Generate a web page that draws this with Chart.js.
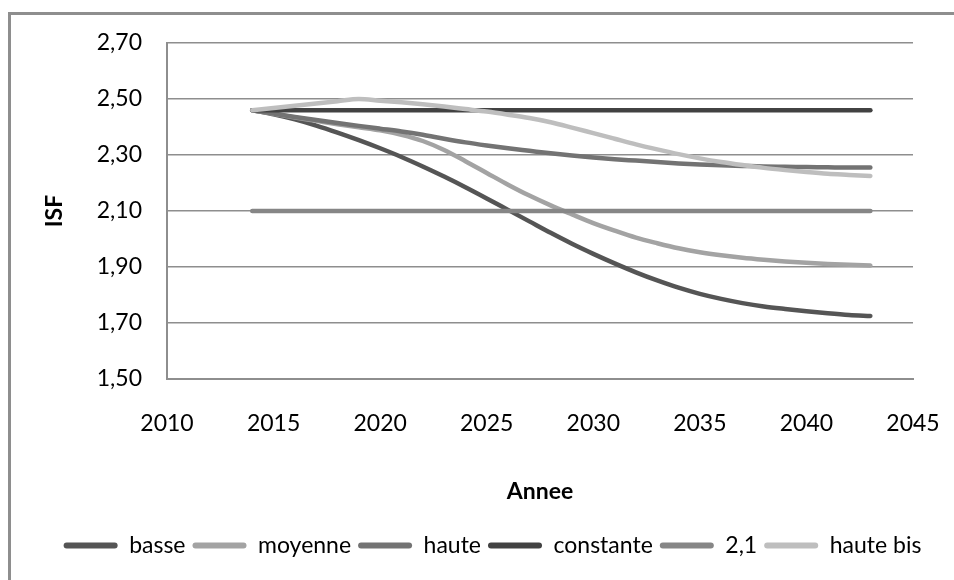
<!DOCTYPE html>
<html>
<head>
<meta charset="utf-8">
<script src="https://cdn.jsdelivr.net/npm/chart.js@4/dist/chart.umd.min.js"></script>
<style>
  html, body { margin: 0; padding: 0; background: #fff; overflow: hidden; }
  #wrap { position: relative; width: 954px; height: 580px; overflow: hidden; }
  #frame { position: absolute; left: 8px; top: 12px; width: 946px; height: 568px;
           border-left: 3px solid #8e8e8e; border-top: 3px solid #8e8e8e; box-sizing: border-box; }
  #c { position: absolute; left: 0; top: 0; }
</style>
</head>
<body>
<div id="wrap">
  <div id="frame"></div>
  <canvas id="c" width="954" height="580"></canvas>
</div>
<script>
// données (ISF par année)
const annees = [2014, 2015, 2016, 2017, 2018, 2019, 2020, 2021, 2022, 2023,
                2024, 2025, 2026, 2027, 2028, 2029, 2030, 2031, 2032, 2033,
                2034, 2035, 2036, 2037, 2038, 2039, 2040, 2041, 2042, 2043];

const basse = [2.46, 2.445, 2.427, 2.405, 2.38, 2.353, 2.324, 2.293, 2.259, 2.223,
               2.185, 2.145, 2.104, 2.063, 2.022, 1.983, 1.947, 1.913, 1.881, 1.852,
               1.826, 1.804, 1.786, 1.771, 1.759, 1.75, 1.742, 1.735, 1.729, 1.725];
const moyenne = [2.46, 2.447, 2.434, 2.422, 2.41, 2.399, 2.388, 2.372, 2.35, 2.318,
                 2.278, 2.236, 2.194, 2.155, 2.12, 2.088, 2.057, 2.03, 2.005, 1.985,
                 1.967, 1.953, 1.942, 1.933, 1.926, 1.92, 1.915, 1.911, 1.908, 1.905];
const haute = [2.46, 2.448, 2.436, 2.425, 2.414, 2.404, 2.394, 2.384, 2.372, 2.358,
               2.345, 2.334, 2.324, 2.315, 2.306, 2.298, 2.291, 2.285, 2.28, 2.275,
               2.27, 2.266, 2.263, 2.261, 2.259, 2.258, 2.257, 2.256, 2.255, 2.255];
const constante = [2.46, 2.46, 2.46, 2.46, 2.46, 2.46, 2.46, 2.46, 2.46, 2.46,
                   2.46, 2.46, 2.46, 2.46, 2.46, 2.46, 2.46, 2.46, 2.46, 2.46,
                   2.46, 2.46, 2.46, 2.46, 2.46, 2.46, 2.46, 2.46, 2.46, 2.46];
const deuxUn = [2.1, 2.1, 2.1, 2.1, 2.1, 2.1, 2.1, 2.1, 2.1, 2.1,
                2.1, 2.1, 2.1, 2.1, 2.1, 2.1, 2.1, 2.1, 2.1, 2.1,
                2.1, 2.1, 2.1, 2.1, 2.1, 2.1, 2.1, 2.1, 2.1, 2.1];
const hauteBis = [2.46, 2.468, 2.476, 2.484, 2.492, 2.50, 2.494, 2.488, 2.481, 2.473,
                  2.464, 2.455, 2.444, 2.432, 2.417, 2.398, 2.378, 2.358, 2.338, 2.32,
                  2.303, 2.288, 2.275, 2.264, 2.254, 2.246, 2.239, 2.233, 2.229, 2.225];

const series = [
  { label: 'basse', data: basse, color: '#555555' },
  { label: 'moyenne', data: moyenne, color: '#a3a3a3' },
  { label: 'haute', data: haute, color: '#737373' },
  { label: 'constante', data: constante, color: '#424242' },
  { label: '2,1', data: deuxUn, color: '#868686' },
  { label: 'haute bis', data: hauteBis, color: '#bebebe' }
];

Chart.defaults.font.family = "Lato, 'Open Sans', sans-serif";
Chart.defaults.font.size = 23;
Chart.defaults.color = '#000';

const gridColor = '#8e8e8e';

// la légende d'Excel n'est pas centrée sur le canevas : on la décale un peu
const legendShift = {
  id: 'legendShift',
  afterLayout(chart) {
    const lg = chart.legend;
    if (lg) { lg.left += 36; lg.right += 36; }
  }
};

new Chart(document.getElementById('c').getContext('2d'), {
  type: 'line',
  data: {
    datasets: series.map((s, i) => ({
      label: s.label,
      data: s.data.map((v, k) => ({ x: annees[k], y: v })),
      borderColor: s.color,
      backgroundColor: s.color,
      borderWidth: 4.5,
      borderCapStyle: 'round',
      borderJoinStyle: 'round',
      pointRadius: 0,
      cubicInterpolationMode: 'monotone',
      fill: false,
      order: series.length - i   // la dernière série passe au-dessus
    }))
  },
  options: {
    responsive: false,
    animation: false,
    layout: { padding: { left: 0, top: 43, right: 41, bottom: 13 } },
    plugins: {
      tooltip: { enabled: false },
      legend: {
        position: 'bottom',
        labels: {
          boxWidth: 54,
          boxHeight: 6,
          padding: 7,
          useBorderRadius: true,
          borderRadius: 3,
          color: '#000',
          generateLabels: chart => chart.data.datasets.map((d, i) => ({
            text: d.label,
            fillStyle: d.borderColor,
            strokeStyle: d.borderColor,
            lineWidth: 0,
            borderRadius: 3,
            datasetIndex: i,
            hidden: false
          }))
        }
      }
    },
    scales: {
      x: {
        type: 'linear',
        min: 2010,
        max: 2045,
        afterFit: scale => { scale.height = 148; },
        // l'écart sous l'axe passe par tickLength (grille masquée) pour ne pas élargir la marge droite
        ticks: { stepSize: 5, padding: 3, callback: v => String(v) },
        grid: { display: false, drawTicks: true, tickLength: 28 },
        border: { display: true, color: gridColor, width: 2 },
        title: { display: true, text: 'Annee', font: { weight: 'bold', size: 23 }, padding: { top: 0, bottom: 22 } }
      },
      y: {
        min: 1.5,
        max: 2.7,
        afterFit: scale => { scale.width = 167; },
        ticks: { stepSize: 0.2, padding: 25, callback: v => v.toFixed(2).replace('.', ',') },
        grid: { color: gridColor, lineWidth: 1.5, drawTicks: false },
        border: { display: true, color: gridColor, width: 2 },
        title: { display: true, text: 'ISF', font: { weight: 'bold', size: 23 }, padding: { top: 41, bottom: 0 } }
      }
    }
  },
  plugins: [legendShift]
});
</script>
</body>
</html>
